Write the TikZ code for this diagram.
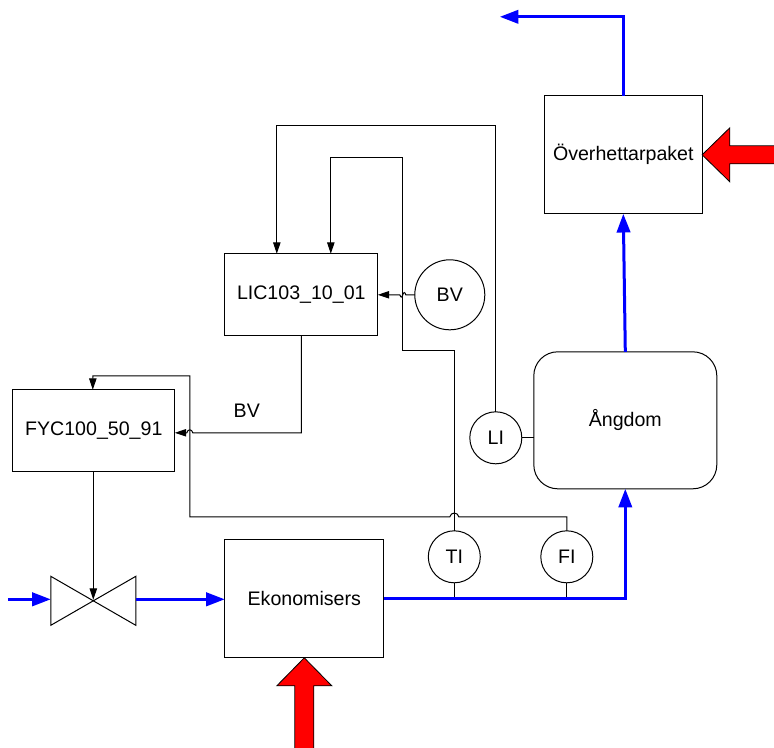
\documentclass[tikz,border=0pt]{standalone}
\usepackage{fontspec}
\setmainfont{Liberation Sans}
\usepackage{tikz}
\usetikzlibrary{arrows.meta}
\tikzset{every node/.style={font=\fontsize{14.7}{16}\selectfont},
    blockbox/.style={draw,outer sep=0pt,inner sep=0pt},
    instr/.style={draw,circle,outer sep=0pt,inner sep=0pt},
    signal/.style={draw,line width=0.75pt},
    sigarrow/.style={signal,-{Triangle[length=8.5pt,width=5.5pt]}},
    water/.style={draw=blue,line width=2.25pt},
    waterarrow/.style={water,-{Triangle[length=14pt,width=10pt]}},
    heat/.style={draw=black,line width=0.6pt,fill=red}}

\begin{document}
\begin{tikzpicture}[x=0.75pt,y=-0.75pt,line width=0.75pt]
    \useasboundingbox (0.2,0.2) rectangle (774.2,747.2);
    % blocks
    \node[blockbox,minimum width=118.25pt,minimum height=88.5pt] (over) at (623.5,155) {Överhettarpaket};
    \node[blockbox,minimum width=114.75pt,minimum height=61.5pt] (lic) at (301.5,295) {LIC103\_10\_01};
    \node[blockbox,minimum width=121.5pt,minimum height=61.5pt] (fyc) at (94,431) {FYC100\_50\_91};
    \node[blockbox,minimum width=119.25pt,minimum height=88.5pt] (ekon) at (304.5,599) {Ekonomisers};
    \node[blockbox,rounded corners=18pt,minimum width=137.25pt,minimum height=102.75pt] (angdom) at (625.5,420.5) {Ångdom};
    % instruments
    \node[instr,minimum size=52.5pt] (bv) at (450,295) {BV};
    \node[instr,minimum size=39pt] (li) at (496,438) {LI};
    \node[instr,minimum size=39pt] (ti) at (454.5,557) {TI};
    \node[instr,minimum size=39pt] (fi) at (567,557) {FI};
    \node (bvlabel) at (247,411) {BV};
    % valve
    \coordinate (valve) at (93.5,600);
    \coordinate (valvein) at (51,599.5);
    \coordinate (valveout) at (136,599.5);
    \coordinate (inlet) at (8,599.5);
    \coordinate (outlet) at (500,17);
    \draw (51,576.5) -- (136,625.5) -- (136,576.5) -- (51,625.5) -- cycle;
    % signal lines
    \draw[sigarrow] (fyc.south -| valve) -- (valve);
    \draw[sigarrow] (lic.south) -- (301.5,433) -- (193,433)
        .. controls (192,429) and (188,429) .. (187,433) -- (fyc.east |- 0,433);
    \draw[sigarrow] (bv.west) -- (406,295)
        .. controls (405,292) and (404,292) .. (403,295)
        .. controls (402,298) and (401,298) .. (400,295) -- (lic.east);
    \draw[sigarrow] (li.north) -- (496,126) -- (277,126) -- (277,254);
    \draw[sigarrow] (ti.north) -- (454.5,351) -- (403,351) -- (403,158) -- (331,158) -- (331,254);
    \draw[sigarrow] (fi.north) -- (567,517) -- (459,517)
        .. controls (458,512) and (451,512) .. (450,517)
        -- (190,517) -- (190,376) -- (93,376) -- (93,390);
    \draw[signal] (li.east) -- (angdom.west |- li.east);
    \draw[signal] (ti.south) -- (454.5,599);
    \draw[signal] (fi.south) -- (567,599);
    % flow lines
    \draw[waterarrow] (inlet) -- (valvein);
    \draw[waterarrow] (valveout) -- (ekon.west |- valveout);
    \draw[waterarrow] (ekon.east) -| (angdom.south);
    \draw[waterarrow] (angdom.north) -- (over.south);
    \draw[waterarrow] (over.north) |- (outlet);
    % heat arrows
    \draw[heat] (ekon.south) -- (332,686) -- (314,686) -- (314,749) -- (295,749) -- (295,686) -- (277,686) -- cycle;
    \draw[heat] (over.east) -- (730,128) -- (730,146) -- (776,146) -- (776,164) -- (730,164) -- (730,182) -- cycle;
\end{tikzpicture}
\end{document}
